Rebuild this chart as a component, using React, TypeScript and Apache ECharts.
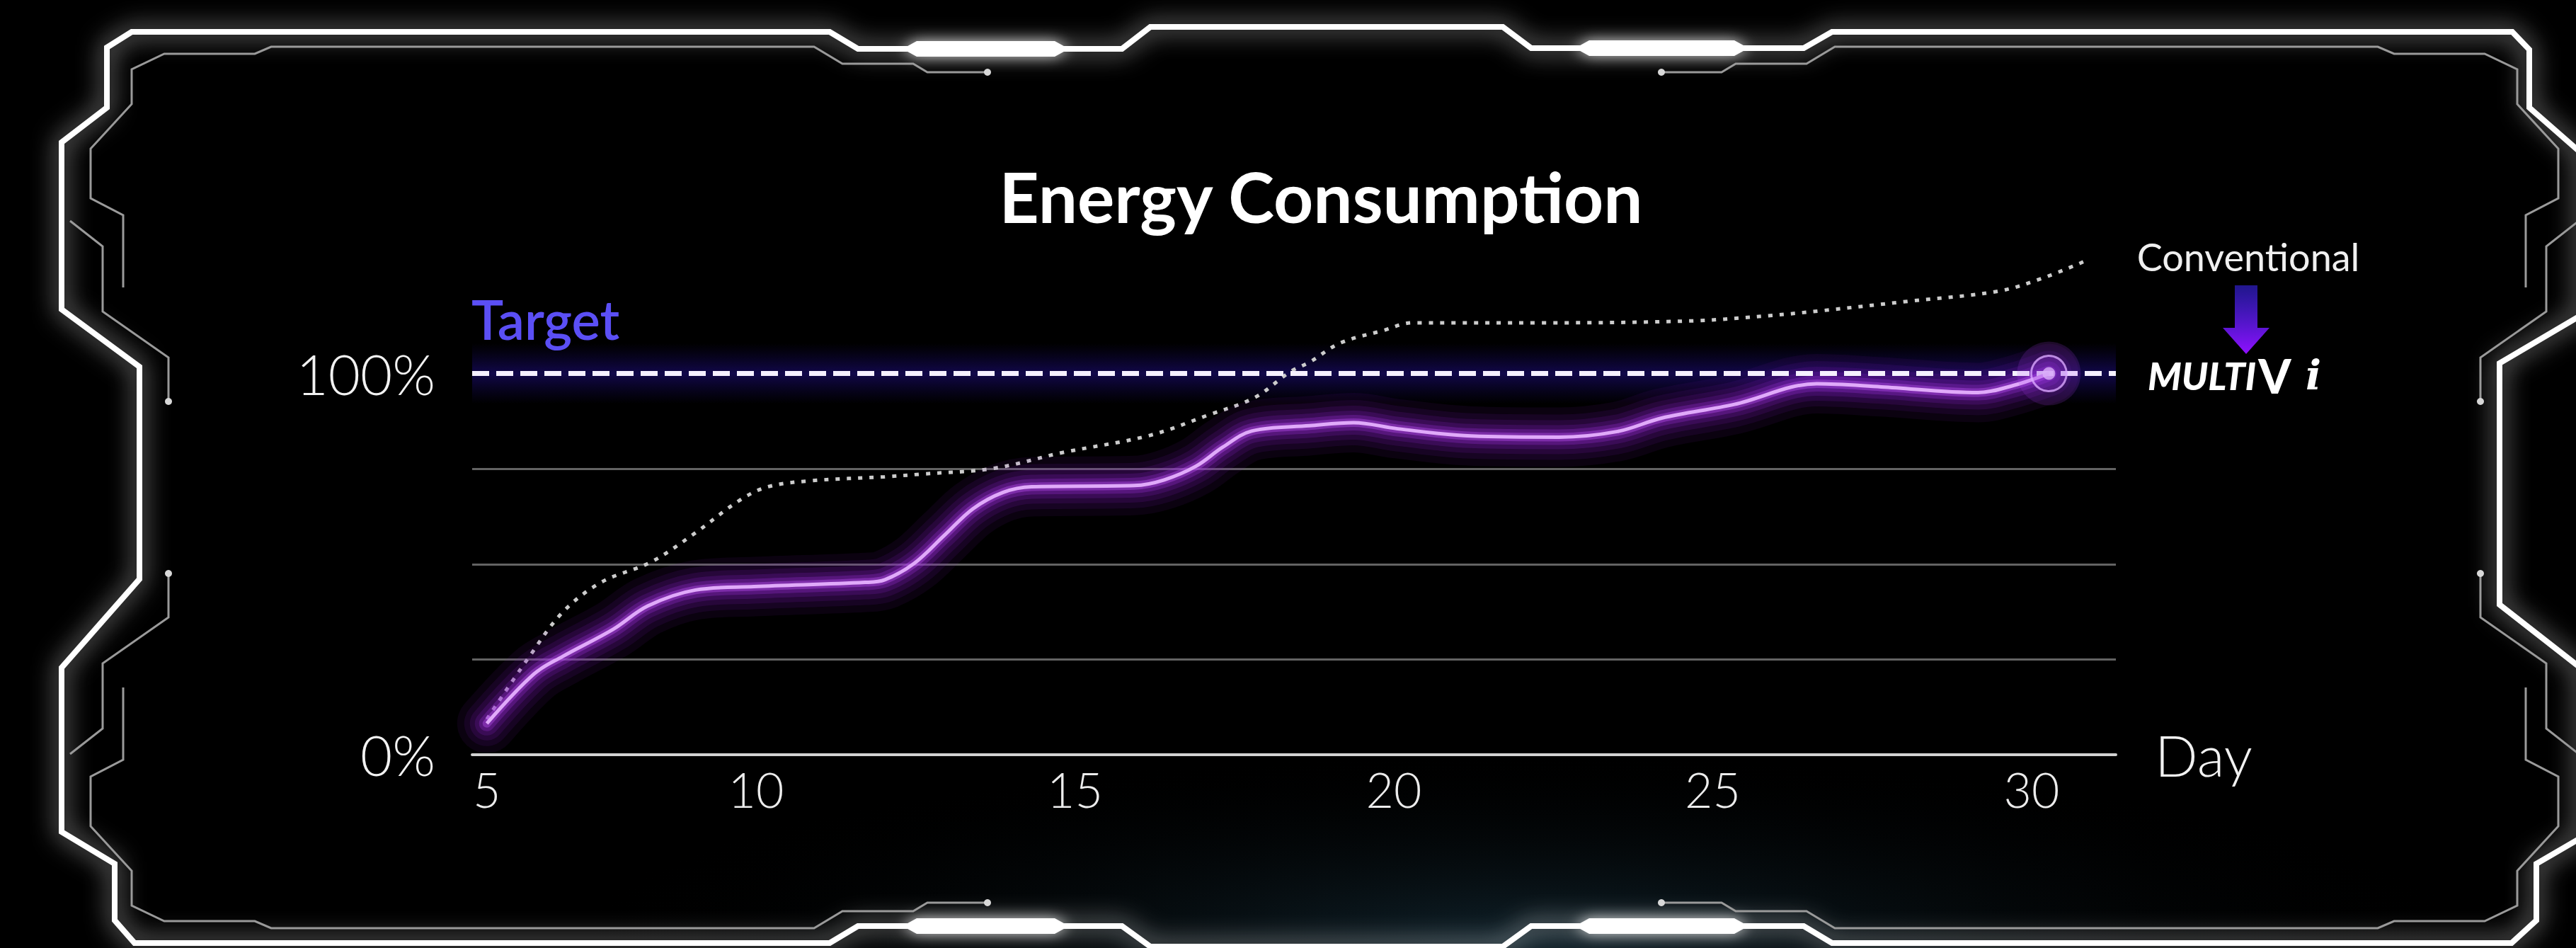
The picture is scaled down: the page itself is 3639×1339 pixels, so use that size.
import React, { useEffect, useRef } from "react";
import * as echarts from "echarts";

// ---------- data ----------
const multiVDays = [5.78, 6.52, 6.97, 7.76, 8.3, 9.05, 9.97, 11.71, 12.02, 12.48, 12.95, 13.4, 13.87, 14.32, 15.93, 16.4, 16.9, 17.32, 17.77, 18.68, 19.37, 20.06, 21.21, 22.59, 23.51, 24.2, 25.34, 26.63, 27.64, 29.16, 29.72, 30.27];
const multiVValues = [8.2, 21.2, 25.8, 32.9, 39.0, 43.2, 44.1, 45.2, 45.9, 50.2, 57.5, 64.5, 68.8, 70.3, 70.6, 72.1, 75.7, 80.7, 84.9, 86.3, 87.1, 85.5, 83.6, 83.3, 84.8, 88.3, 91.9, 97.3, 96.5, 95.0, 96.9, 100];

const convDays = [5.78, 6.42, 6.97, 7.57, 8.36, 9.05, 9.74, 10.19, 10.89, 12.02, 12.58, 13.72, 14.79, 16.16, 17.09, 17.82, 18.37, 18.68, 19.16, 19.84, 20.29, 22.37, 24.67, 25.9, 26.72, 28.1, 29.48, 30.17, 30.81];
const convValues = [9.3, 25.1, 37.4, 45.2, 50.6, 58.2, 66.7, 70.3, 71.9, 72.9, 73.6, 75.1, 79.2, 83.7, 89.1, 93.7, 100.4, 103, 108, 111.3, 113.3, 113.3, 113.8, 115.2, 116.5, 119, 121.6, 125, 129.3];

const xTickPositions = [5.78, 10, 15, 20, 25, 30];
const xTickLabels = ["5", "10", "15", "20", "25", "30"];
const yTickValues = [0, 100];
const gridValues = [25, 50, 75];
const targetValue = 100;

// ---------- glow layers (style only) ----------
const glowLayers = [
  { width: 84, color: "rgba(120,20,180,0.09)" },
  { width: 64, color: "rgba(130,25,190,0.11)" },
  { width: 48, color: "rgba(140,30,200,0.14)" },
  { width: 34, color: "rgba(150,40,215,0.18)" },
  { width: 22, color: "rgba(165,55,230,0.26)" },
  { width: 12, color: "rgba(185,80,240,0.4)" },
];

// ---------- decoration (frame) ----------
const outerFrame = [
  [186, 45], [1172, 45], [1212, 69], [1585, 69], [1625, 38], [2123, 38], [2163, 68], [2548, 68], [2588, 45], [3549, 45],
  [3573, 70], [3573, 152], [3645, 215], [3645, 446], [3531, 513], [3531, 854], [3645, 943], [3645, 1184], [3583, 1220], [3583, 1300], [3548, 1332],
  [2588, 1332], [2548, 1308], [2163, 1308], [2123, 1337], [1625, 1337], [1585, 1308], [1212, 1308], [1172, 1332], [190, 1332],
  [162, 1300], [162, 1220], [87, 1175], [87, 943], [197, 818], [197, 518], [87, 437], [87, 201], [151, 152], [151, 67],
];
const innerTL = [[1395, 102], [1310, 102], [1290, 90], [1190, 90], [1150, 66], [383, 66], [360, 76], [232, 76], [186, 98], [186, 147], [128, 210], [128, 280], [174, 304], [174, 406]];
const sideL = [[238, 567], [238, 505], [145, 440], [145, 348], [99, 312]];

const mx = (p: number[]) => [3742 - p[0], p[1]];
const my = (p: number[]) => [p[0], 1377 - p[1]];

function bar(xa: number, xb: number, y: number) {
  return [[xa, y], [xa + 20, y - 11], [xb - 20, y - 11], [xb, y], [xb - 20, y + 11], [xa + 20, y + 11]];
}

export default function App() {
  const ref = useRef<HTMLDivElement>(null);

  useEffect(() => {
    document.body.style.margin = "0";
    document.body.style.background = "#000";
    if (!ref.current) return;
    const chart = echarts.init(ref.current, null, { renderer: "svg" });

    const mvData = multiVDays.map((d, i) => [d, multiVValues[i]]);
    const cvData = convDays.map((d, i) => [d, convValues[i]]);
    const last = mvData[mvData.length - 1];

    const innerLines = [
      innerTL, innerTL.map(mx), innerTL.map(my), innerTL.map((p) => my(mx(p))),
      sideL, sideL.map(mx), sideL.map(my), sideL.map((p) => my(mx(p))),
    ];

    const frameStroke = {
      fill: "none",
      stroke: "#ffffff",
      lineWidth: 8,
      shadowBlur: 34,
      shadowColor: "rgba(255,255,255,0.9)",
    };

    const graphics: any[] = [
      {
        type: "circle",
        x: 2150,
        y: 1330,
        scaleX: 4.5,
        scaleY: 0.9,
        shape: { cx: 0, cy: 0, r: 300 },
        style: {
          fill: new echarts.graphic.RadialGradient(0.5, 0.5, 0.5, [
            { offset: 0, color: "rgba(45,95,120,0.35)" },
            { offset: 1, color: "rgba(0,0,0,0)" },
          ]),
        },
        z: -1,
        silent: true,
      },
      { type: "polygon", shape: { points: outerFrame }, style: frameStroke, z: 10, silent: true },
      ...[bar(1275, 1510, 69), bar(2225, 2470, 68), bar(1275, 1510, 1308), bar(2225, 2470, 1308)].map((pts) => ({
        type: "polygon",
        shape: { points: pts },
        style: { fill: "#ffffff", shadowBlur: 20, shadowColor: "rgba(255,255,255,0.8)" },
        z: 10,
        silent: true,
      })),
      ...innerLines.map((pts) => ({
        type: "polyline",
        shape: { points: pts },
        style: { fill: "none", stroke: "#9a9a9a", lineWidth: 3 },
        z: 10,
        silent: true,
      })),
      ...innerLines.map((pts) => ({
        type: "circle",
        shape: { cx: pts[0][0], cy: pts[0][1], r: 5 },
        style: { fill: "#d8d8d8" },
        z: 10,
        silent: true,
      })),
      {
        type: "text",
        x: 1866,
        y: 277,
        style: {
          text: "Energy Consumption",
          fill: "#ffffff",
          fontSize: 98,
          fontWeight: "bold",
          fontFamily: "Lato",
          align: "center",
          verticalAlign: "middle",
        },
        z: 20,
      },
      {
        type: "text",
        x: 666,
        y: 450,
        style: {
          text: "Target",
          fill: "#5b4ff5",
          fontSize: 76,
          fontWeight: 600,
          fontFamily: "Lato",
          align: "left",
          verticalAlign: "middle",
        },
        z: 20,
      },
      {
        type: "text",
        x: 3176,
        y: 362,
        style: {
          text: "Conventional",
          fill: "#f0f0f0",
          fontSize: 54,
          fontWeight: 400,
          fontFamily: "Lato",
          align: "center",
          verticalAlign: "middle",
        },
        z: 20,
      },
      {
        type: "polygon",
        shape: {
          points: [[3157, 403], [3189, 403], [3189, 463], [3206, 463], [3173, 500], [3140, 463], [3157, 463]],
        },
        style: {
          fill: new echarts.graphic.LinearGradient(0, 0, 0, 1, [
            { offset: 0, color: "rgba(60,40,255,0.55)" },
            { offset: 1, color: "#9010ff" },
          ]),
        },
        z: 20,
      },
      {
        type: "text",
        x: 3034,
        y: 530,
        style: {
          text: "{m|MULTI} {v|V}{i| i}",
          fill: "#ffffff",
          align: "left",
          verticalAlign: "middle",
          rich: {
            m: { fontSize: 54, fontWeight: 900, fontStyle: "italic", fontFamily: "Lato", fill: "#ffffff" },
            v: { fontSize: 66, fontWeight: 900, fontFamily: "Lato", fill: "#ffffff" },
            i: { fontSize: 58, fontStyle: "italic", fontWeight: 700, fontFamily: "DejaVu Serif", fill: "#ffffff" },
          },
        },
        z: 20,
      },
    ];

    const glowSeries = glowLayers.map((g, k) => ({
      type: "line",
      name: `glow-${k}`,
      data: mvData,
      smooth: 0.35,
      showSymbol: false,
      silent: true,
      z: 4,
      lineStyle: { color: g.color, width: g.width, cap: "round", join: "round" },
    }));

    const option: any = {
      backgroundColor: "#000000",
      animation: false,
      grid: { left: 667, right: 650, top: 366, bottom: 273, containLabel: false },
      xAxis: {
        type: "value",
        min: 5.55,
        max: 31.32,
        axisLine: { show: true, lineStyle: { color: "#d2d2d2", width: 4 } },
        axisTick: { show: false },
        splitLine: { show: false },
        axisLabel: {
          customValues: xTickPositions,
          formatter: (v: number) => {
            const i = xTickPositions.findIndex((p) => Math.abs(p - v) < 1e-6);
            return i >= 0 ? xTickLabels[i] : "";
          },
          color: "#ececec",
          fontSize: 68,
          fontWeight: 300,
          fontFamily: "Lato",
          margin: 14,
        },
        name: "Day",
        nameLocation: "end",
        nameGap: 55,
        nameTextStyle: {
          color: "#f2f2f2",
          fontSize: 80,
          fontWeight: 300,
          fontFamily: "Lato",
          align: "left",
          verticalAlign: "middle",
        },
      },
      yAxis: {
        type: "value",
        min: 0,
        max: 130,
        interval: 100,
        axisLine: { show: false },
        axisTick: { show: false },
        splitLine: { show: false },
        axisLabel: {
          customValues: yTickValues,
          formatter: (v: number) => (yTickValues.includes(v) ? `${v}%` : ""),
          color: "#f2f2f2",
          fontSize: 78,
          fontWeight: 300,
          fontFamily: "Lato",
          margin: 52,
        },
      },
      graphic: graphics,
      series: [
        {
          type: "line",
          name: "Conventional",
          data: cvData,
          smooth: 0.35,
          showSymbol: false,
          silent: true,
          z: 3,
          lineStyle: { color: "#cccccc", width: 5, type: [6, 10] },
          markLine: {
            silent: true,
            symbol: "none",
            z: 1,
            label: { show: false },
            lineStyle: { color: "#636363", width: 3, type: "solid" },
            data: gridValues.map((v) => ({ yAxis: v })),
          },
        },
        ...glowSeries,
        {
          type: "line",
          name: "MULTI V i",
          data: mvData,
          smooth: 0.35,
          showSymbol: false,
          silent: true,
          z: 6,
          lineStyle: { color: "#e0aafa", width: 5 },
          markArea: {
            silent: true,
            z: 0,
            itemStyle: {
              color: new echarts.graphic.LinearGradient(0, 0, 0, 1, [
                { offset: 0, color: "rgba(25,10,110,0)" },
                { offset: 0.5, color: "rgba(35,15,150,0.5)" },
                { offset: 1, color: "rgba(25,10,110,0)" },
              ]),
            },
            data: [[{ yAxis: targetValue - 8 }, { yAxis: targetValue + 8 }]],
          },
          markLine: {
            silent: true,
            symbol: "none",
            z: 5,
            label: { show: false },
            lineStyle: { color: "#f5f0ff", width: 7, type: [24, 10] },
            data: [{ yAxis: targetValue }],
          },
        },
        {
          type: "scatter",
          data: [last],
          symbol: "circle",
          symbolSize: 90,
          silent: true,
          z: 7,
          itemStyle: { color: "rgba(170,60,240,0.22)" },
        },
        {
          type: "scatter",
          data: [last],
          symbol: "circle",
          symbolSize: 50,
          silent: true,
          z: 8,
          itemStyle: {
            color: "rgba(150,60,220,0.3)",
            borderColor: "#dba8ff",
            borderWidth: 3,
          },
        },
        {
          type: "scatter",
          data: [last],
          symbol: "circle",
          symbolSize: 18,
          silent: true,
          z: 9,
          itemStyle: { color: "#dcb0fa" },
        },
      ],
    };

    chart.setOption(option);
    return () => chart.dispose();
  }, []);

  return <div ref={ref} style={{ width: 3639, height: 1339 }} />;
}
